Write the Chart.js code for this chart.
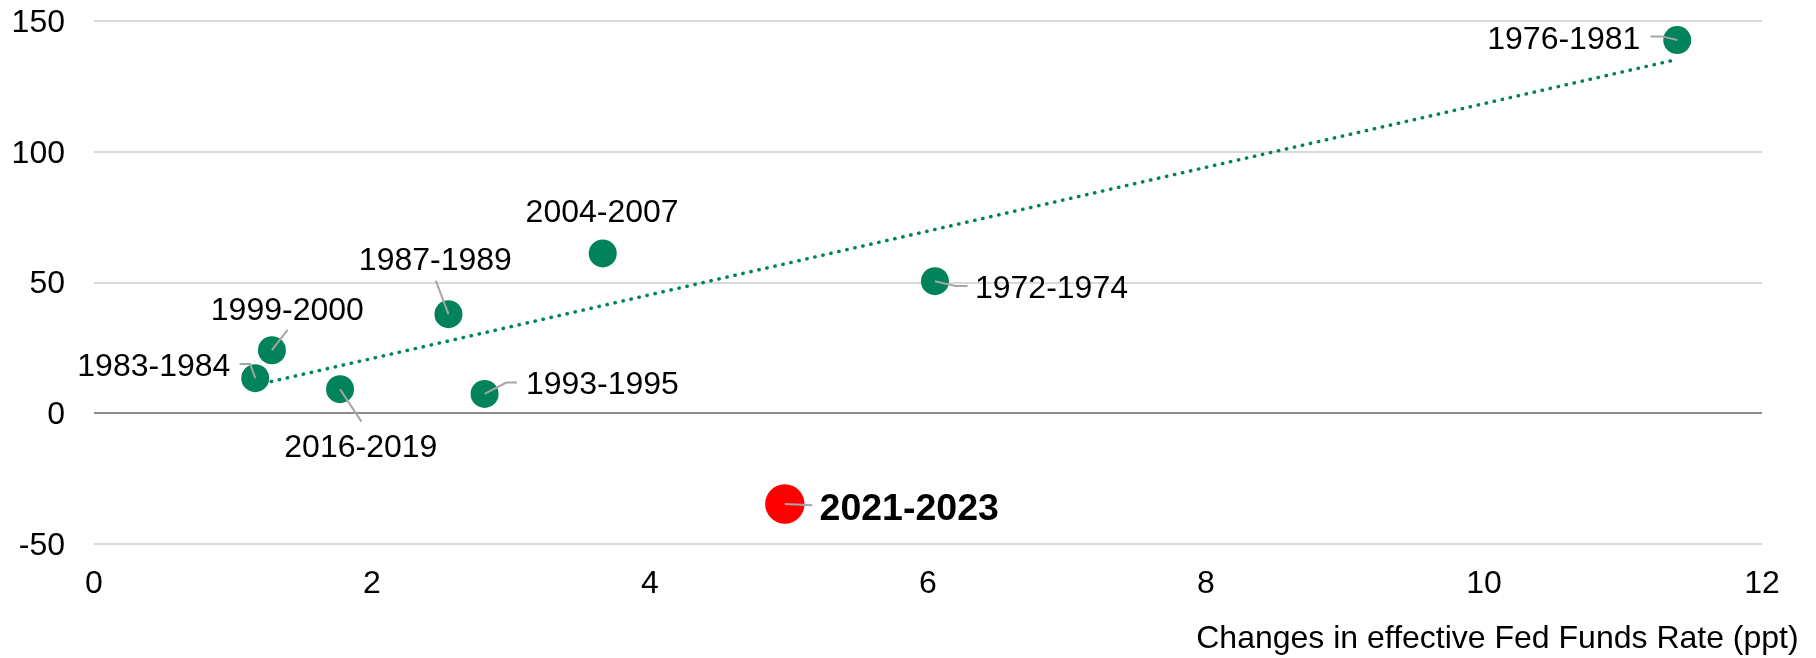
<!DOCTYPE html>
<html>
<head>
<meta charset="utf-8">
<title>Fed hiking cycles</title>
<script src="https://cdn.jsdelivr.net/npm/chart.js@4/dist/chart.umd.min.js"></script>
<style>
  html, body { margin: 0; padding: 0; background: #fff; }
  #wrap { width: 1816px; height: 658px; }
</style>
</head>
<body>
<div id="wrap"><canvas id="myChart" width="1816" height="658"></canvas></div>
<script>
// past hiking cycles
var periods = ['1976-1981', '1972-1974', '2004-2007', '1987-1989', '1999-2000', '1983-1984', '2016-2019', '1993-1995'];
var rateChange = [11.39, 6.05, 3.66, 2.55, 1.28, 1.16, 1.77, 2.81];
var outcome = [142.7, 50.5, 61.1, 37.9, 24.1, 13.4, 9.2, 7.4];

// current cycle
var currentPeriod = ['2021-2023'];
var currentRateChange = [4.97];
var currentOutcome = [-34.7];

var xTicks = [0, 2, 4, 6, 8, 10, 12];
var yTicks = [-50, 0, 50, 100, 150];
var xTitle = 'Changes in effective Fed Funds Rate (ppt)';

var GREEN = '#00825a';
var RED = '#ff0000';
var FONT = '"Liberation Sans", Arial, sans-serif';

// label placement, pixels relative to the dot
var labelLayout = {
  '1976-1981': { align: 'right', dx: -37.7, dy: -2.4, leader: [[-26.7, -3.7], [-15, -3.7], [0, 0]] },
  '1972-1974': { align: 'left', dx: 42, dy: 5.4, leader: [[0, 0], [20.3, 4.7], [32.6, 4.7]] },
  '2004-2007': { align: 'center', dx: -0.5, dy: -42.9, leader: null },
  '1987-1989': { align: 'center', dx: -12.5, dy: -55.3, leader: [[-12.6, -33.6], [0, 0]] },
  '1999-2000': { align: 'center', dx: 16, dy: -41.6, leader: [[15.7, -20.3], [0, 0]] },
  '1983-1984': { align: 'right', dx: -25.7, dy: -13.3, leader: [[-15.7, -14.3], [-5, -14.3], [0, 0]] },
  '2016-2019': { align: 'center', dx: 20.9, dy: 56.7, leader: [[21.4, 32.4], [0, 0]] },
  '1993-1995': { align: 'left', dx: 43.3, dy: -11, leader: [[0, 0], [21.7, -11.3], [32.3, -11.3]] },
  '2021-2023': { align: 'left', dx: 35.7, dy: 3, leader: [[0, 0], [27.4, 1.3]], bold: true }
};

function toPoints(xs, ys) {
  return xs.map(function (x, i) { return { x: x, y: ys[i] }; });
}

// least squares trend through the past cycles
function trendLine(xs, ys) {
  var n = xs.length, mx = 0, my = 0, sxx = 0, sxy = 0;
  for (var i = 0; i < n; i++) { mx += xs[i] / n; my += ys[i] / n; }
  for (var j = 0; j < n; j++) {
    sxx += (xs[j] - mx) * (xs[j] - mx);
    sxy += (xs[j] - mx) * (ys[j] - my);
  }
  var b = sxy / sxx, a = my - b * mx;
  var lo = Math.min.apply(null, xs), hi = Math.max.apply(null, xs);
  return [{ x: lo, y: a + b * lo }, { x: hi, y: a + b * hi }];
}

// text aligned on its ink, vertically on the middle of the digits
function drawLabel(ctx, txt, x, yMid, align, font) {
  ctx.save();
  ctx.font = font;
  ctx.textAlign = 'left';
  ctx.textBaseline = 'alphabetic';
  var m = ctx.measureText(txt);
  var inkL = -m.actualBoundingBoxLeft, inkR = m.actualBoundingBoxRight;
  var ox;
  if (align === 'right') ox = x - inkR;
  else if (align === 'center') ox = x - (inkL + inkR) / 2;
  else ox = x - inkL;
  ctx.fillStyle = '#000';
  ctx.fillText(txt, ox, yMid + m.actualBoundingBoxAscent / 2);
  ctx.restore();
}

var pointLabels = {
  id: 'pointLabels',
  afterDatasetsDraw: function (chart) {
    var ctx = chart.ctx;
    var groups = [[1, periods], [2, currentPeriod]];
    groups.forEach(function (g) {
      var meta = chart.getDatasetMeta(g[0]);
      g[1].forEach(function (name, i) {
        var pt = meta.data[i];
        var lay = labelLayout[name];
        if (lay.leader) {
          ctx.save();
          ctx.strokeStyle = '#a6a6a6';
          ctx.lineWidth = 2;
          ctx.beginPath();
          lay.leader.forEach(function (p, k) {
            if (k === 0) ctx.moveTo(pt.x + p[0], pt.y + p[1]);
            else ctx.lineTo(pt.x + p[0], pt.y + p[1]);
          });
          ctx.stroke();
          ctx.restore();
        }
        var font = lay.bold ? 'bold 37.5px ' + FONT : '32px ' + FONT;
        drawLabel(ctx, name, pt.x + lay.dx, pt.y + lay.dy, lay.align, font);
      });
    });
  },
  afterDraw: function (chart) {
    var ctx = chart.ctx;
    ctx.save();
    ctx.font = '32px ' + FONT;
    var m = ctx.measureText(xTitle);
    ctx.fillStyle = '#000';
    ctx.textBaseline = 'alphabetic';
    ctx.fillText(xTitle, 1797 - m.actualBoundingBoxRight, 648);
    ctx.restore();
  }
};

var ctx = document.getElementById('myChart').getContext('2d');
var myChart = new Chart(ctx, {
  type: 'scatter',
  data: {
    datasets: [{
      label: 'Trend',
      data: trendLine(rateChange, outcome),
      showLine: true,
      borderColor: GREEN,
      borderWidth: 3.5,
      borderDash: [0.4, 7.8],
      borderCapStyle: 'round',
      pointRadius: 0,
      pointHoverRadius: 0,
      order: 3
    }, {
      label: 'Past cycles',
      data: toPoints(rateChange, outcome),
      backgroundColor: GREEN,
      borderWidth: 0,
      pointRadius: 14,
      pointHoverRadius: 14,
      order: 2
    }, {
      label: 'Current cycle',
      data: toPoints(currentRateChange, currentOutcome),
      backgroundColor: RED,
      borderWidth: 0,
      pointRadius: 19.7,
      pointHoverRadius: 19.7,
      order: 1
    }]
  },
  options: {
    responsive: false,
    animation: false,
    devicePixelRatio: 1,
    layout: { padding: { top: 21, right: 54, left: 0, bottom: 0 } },
    plugins: {
      legend: { display: false },
      tooltip: { enabled: false }
    },
    scales: {
      x: {
        type: 'linear',
        min: xTicks[0],
        max: xTicks[xTicks.length - 1],
        afterBuildTicks: function (scale) {
          scale.ticks = xTicks.map(function (v) { return { value: v }; });
        },
        afterFit: function (scale) {
          scale.height = 114;
          scale.paddingLeft = 0;
          scale.paddingRight = 0;
        },
        grid: { display: false, drawTicks: false },
        border: { display: false },
        ticks: {
          padding: 21,
          color: '#000',
          font: { family: FONT, size: 32 },
          maxRotation: 0
        }
      },
      y: {
        min: yTicks[0],
        max: yTicks[yTicks.length - 1],
        afterBuildTicks: function (scale) {
          scale.ticks = yTicks.map(function (v) { return { value: v }; });
        },
        afterFit: function (scale) {
          scale.width = 94;
          scale.paddingTop = 0;
          scale.paddingBottom = 0;
        },
        grid: {
          color: function (c) { return c.tick && c.tick.value === 0 ? '#8c8c8c' : '#d9d9d9'; },
          lineWidth: 2,
          drawTicks: false
        },
        border: { display: false },
        ticks: {
          padding: 29,
          labelOffset: 2,
          color: '#000',
          font: { family: FONT, size: 32 }
        }
      }
    }
  },
  plugins: [pointLabels]
});
</script>
</body>
</html>
